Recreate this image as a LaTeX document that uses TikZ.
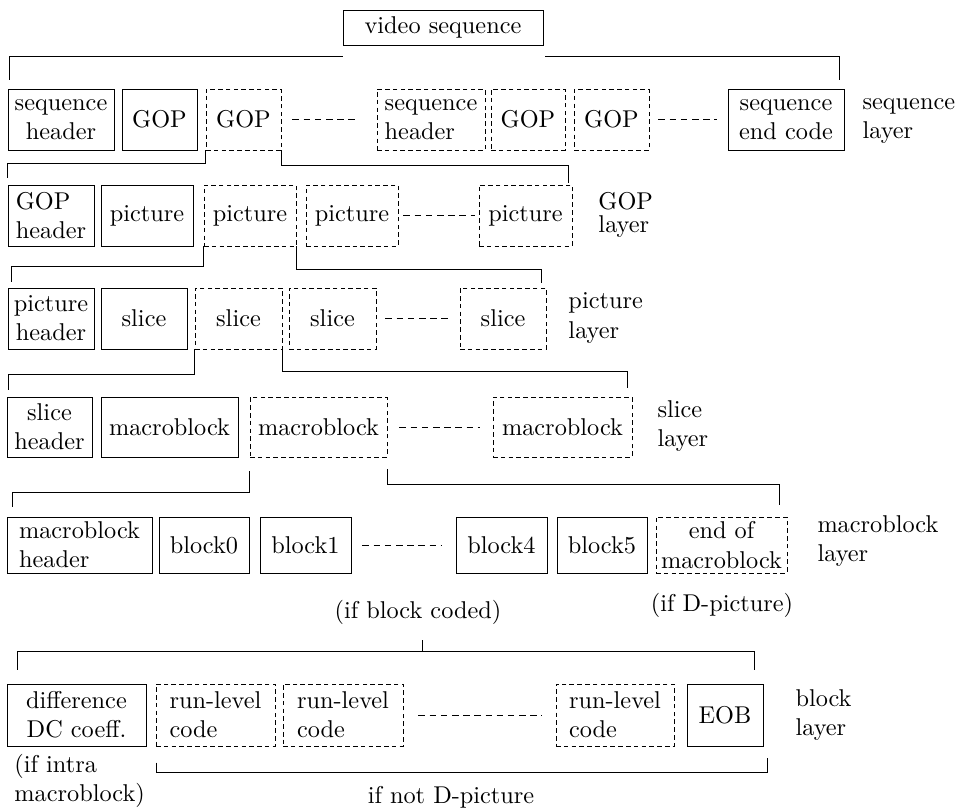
\documentclass[tikz,border=0pt]{standalone}
\usetikzlibrary{calc}
\newcommand\bx[7]{\node[#6, minimum width={(#4-#2)*0.4115pt}, minimum height={(#5-#3)*0.4115pt}] (#1) at ({(#2+#4)/2},{(#3+#5)/2}) {#7};}
\begin{document}
\begin{tikzpicture}[x=0.4115pt,y=-0.4115pt,line width=0.4pt,
  sb/.style={draw,inner sep=1pt,align=center},
  db/.style={draw,inner sep=1pt,align=center,dash pattern=on 1.9pt off 1.3pt},
  sl/.style={draw,inner sep=1pt,align=left},
  dl/.style={draw,inner sep=1pt,align=left,dash pattern=on 1.9pt off 1.3pt},
  dots/.style={dash pattern=on 2.7pt off 1.9pt},
  lab/.style={anchor=west,align=left,inner sep=0pt},
  note/.style={inner sep=0pt,align=center}]
\useasboundingbox (0,0) rectangle (961,808);
% top
\bx{vs}{343}{10}{543}{45}{sb}{video sequence}
% sequence layer
\bx{sh1}{8}{89}{114}{150}{sb}{sequence\\header}
\bx{g1}{122}{89}{197}{150}{sb}{GOP}
\bx{g2}{206}{89}{281}{150}{db}{GOP}
\bx{sh2}{377}{89}{485}{150}{dl}{sequence\\header}
\bx{g3}{491}{89}{565}{150}{db}{GOP}
\bx{g4}{574}{89}{649}{150}{db}{GOP}
\bx{sec}{728}{89}{844}{150}{sb}{sequence\\end code}
\node[lab] (l1) at (862,121) {sequence\\layer};
% GOP layer
\bx{gh}{8}{185}{94}{246}{sl}{GOP\\header}
\bx{p1}{101}{185}{193}{246}{sb}{picture}
\bx{p2}{204}{185}{296}{246}{db}{picture}
\bx{p3}{306}{185}{398}{246}{db}{picture}
\bx{p4}{479}{185}{572}{246}{db}{picture}
\node[lab] (l2) at (598,215) {GOP\\[-2.5pt]layer};
% picture layer
\bx{ph}{8}{288}{94}{349}{sb}{picture\\header}
\bx{s1}{101}{288}{187}{349}{sb}{slice}
\bx{s2}{195}{288}{282}{349}{db}{slice}
\bx{s3}{289}{288}{376}{349}{db}{slice}
\bx{s4}{460}{288}{546}{349}{db}{slice}
\node[lab] (l3) at (568,318) {picture\\layer};
% slice layer
\bx{slh}{7}{397}{92}{457}{sb}{slice\\header}
\bx{m1}{101}{397}{238}{457}{sb}{macroblock}
\bx{m2}{250}{397}{387}{457}{db}{macroblock}
\bx{m3}{493}{397}{632}{457}{db}{macroblock}
\node[lab] (l4) at (657,426) {slice\\layer};
% macroblock layer
\bx{mh}{7}{517}{152}{573}{sl}{macroblock\\header}
\bx{b0}{159}{517}{249}{573}{sb}{block0}
\bx{b1}{260}{517}{351}{573}{sb}{block1}
\bx{b4}{456}{517}{547}{573}{sb}{block4}
\bx{b5}{557}{517}{647}{573}{sb}{block5}
\bx{em}{656}{517}{787}{573}{db}{end of\\macroblock}
\node[lab] (l5) at (817,541) {macroblock\\layer};
\node[note] (ibc) at (418,612) {(if block coded)};
\node[note] (idp) at (722,605) {(if D-picture)};
% block layer
\bx{dc}{7}{684}{146}{746}{sb}{difference\\DC coeff.}
\bx{r1}{156}{684}{275}{746}{dl}{run-level\\code}
\bx{r2}{283}{684}{403}{746}{dl}{run-level\\code}
\bx{r3}{556}{684}{674}{746}{dl}{run-level\\code}
\bx{eob}{687}{684}{763}{746}{sb}{EOB}
\node[lab] (l6) at (795,715) {block\\layer};
\node[lab] (iim) at (14,781) {(if intra\\macroblock)};
\node[note] (ind) at (451,797) {if not D-picture};
% brackets
\draw ($(vs.south west)+(0,11)$) -| ($(sh1.north west)+(2,-9)$);
\draw ($(vs.south east)+(2,11)$) -| ($(sec.north east)+(-5,-9)$);
\draw (g2.south west) -- ++(0,13) -| ($(gh.north west)+(0,-7)$);
\draw (g2.south east) -- ++(0,15) -| ($(p4.north east)+(-4,-2)$);
\draw (p2.south west) -- ++(0,20) -| ($(ph.north west)+(4,-6)$);
\draw (p2.south east) -- ++(0,23) -| ($(s4.north east)+(-5,-5)$);
\draw (s2.south west) -- ++(0,25) -| ($(slh.north west)+(2,-7)$);
\draw (s2.south east) -- ++(0,22) -| ($(m3.north east)+(-5,-9)$);
\draw ($(m2.south west)+(0,14)$) -- ($(m2.south west)+(0,35)$) -| ($(mh.north west)+(6,-10)$);
\draw ($(m2.south east)+(0,12)$) -- ($(m2.south east)+(0,27)$) -| ($(em.north east)+(-8,-12)$);
\coordinate (tk) at (422,640);
\draw (tk) -- ++(0,12);
\draw ($(dc.north west)+(11,-14)$) |- ($(eob.north east)+(-9,-32)$) -- ($(eob.north east)+(-9,-14)$);
\draw ($(r1.south west)+(1,16)$) |- ($(eob.south east)+(4,26)$) -- ($(eob.south east)+(4,11)$);
% dashed continuation lines
\draw[dots] ($(g2.east)+(11,0)$) -- ($(sh2.west)+(-19,0)$);
\draw[dots] ($(g4.east)+(9,0)$) -- ($(sec.west)+(-11,0)$);
\draw[dots] ($(p3.east)+(5,0)$) -- ($(p4.west)+(-4,0)$);
\draw[dots] ($(s3.east)+(9,0)$) -- ($(s4.west)+(-10,0)$);
\draw[dots] ($(m2.east)+(12,0)$) -- ($(m3.west)+(-13,0)$);
\draw[dots] ($(b1.east)+(11,0)$) -- ($(b4.west)+(-14,0)$);
\draw[dots] ($(r2.east)+(15,0)$) -- ($(r3.west)+(-14,0)$);
\end{tikzpicture}
\end{document}
